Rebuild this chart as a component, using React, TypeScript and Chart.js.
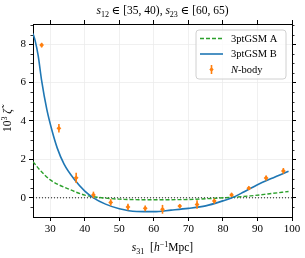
import React, { useEffect, useRef } from "react";
import { Chart, registerables } from "chart.js";

Chart.register(...registerables);

// ---- data ----
const xTicks = [30, 40, 50, 60, 70, 80, 90, 100];
const yTicks = [0, 2, 4, 6, 8];
const yMinorStep = 0.5;

const nbodyX = [27.5, 32.5, 37.5, 42.5, 47.5, 52.5, 57.5, 62.5, 67.5, 72.5, 77.5, 82.5, 87.5, 92.5, 97.5];
const nbodyY = [7.95, 3.62, 1.04, 0.15, -0.24, -0.48, -0.55, -0.6, -0.43, -0.35, -0.17, 0.15, 0.5, 1.03, 1.4];
const nbodyErr = [0.12, 0.22, 0.27, 0.17, 0.17, 0.17, 0.15, 0.23, 0.09, 0.22, 0.13, 0.11, 0.09, 0.13, 0.15];

const modelAX = [25, 27, 30, 35, 40, 44, 50, 60, 70, 78, 83, 88, 93, 99];
const modelAY = [1.88, 1.45, 0.93, 0.48, 0.14, 0.02, -0.07, -0.1, -0.09, -0.02, 0.03, 0.1, 0.2, 0.33];

const modelBX = [25, 25.6, 26.5, 27.5, 29, 30.5, 32, 34, 37, 40, 42.5, 46, 50, 55, 60, 65, 70, 75, 80, 82.6, 86, 90, 94, 99];
const modelBY = [8.55, 8.2, 7.4, 6.1, 4.6, 3.5, 2.6, 1.75, 0.95, 0.35, 0.0, -0.33, -0.57, -0.71, -0.72, -0.64, -0.55, -0.42, -0.16, 0.0, 0.3, 0.68, 1.0, 1.38];

const zeroLineX = [25, 100];
const zeroLineY = [0, 0];

const legendLabels = ["3ptGSM A", "3ptGSM B", "N-body"];

type Seg = { t: string; it?: boolean; sub?: boolean; sup?: boolean };
const titleSegs: Seg[] = [
  { t: "s", it: true }, { t: "12", sub: true }, { t: " ∈ [35, 40), " },
  { t: "s", it: true }, { t: "23", sub: true }, { t: " ∈ [60, 65)" },
];
const xLabelSegs: Seg[] = [
  { t: "s", it: true }, { t: "31", sub: true }, { t: "  [" }, { t: "h", it: true }, { t: "−1", sup: true }, { t: "Mpc]" },
];
const yLabelSegs: Seg[] = [
  { t: "10" }, { t: "3", sup: true }, { t: " " }, { t: "ζ̃", it: true },
];

const COLOR_A = "#2ca02c";
const COLOR_B = "#1f77b4";
const COLOR_N = "#ff7f0e";
const FONT = "'Liberation Serif', 'DejaVu Serif', serif";

function segFont(s: Seg, size: number) {
  const sz = s.sub || s.sup ? size * 0.7 : size;
  return `${s.it ? "italic " : ""}${sz}px ${FONT}`;
}

function drawRich(ctx: CanvasRenderingContext2D, segs: Seg[], cx: number, baseline: number, size: number) {
  ctx.save();
  ctx.textBaseline = "alphabetic";
  ctx.textAlign = "left";
  let total = 0;
  for (const s of segs) {
    ctx.font = segFont(s, size);
    total += ctx.measureText(s.t).width;
  }
  let x = cx - total / 2;
  for (const s of segs) {
    ctx.font = segFont(s, size);
    let dy = 0;
    if (s.sub) dy = size * 0.22;
    if (s.sup) dy = -size * 0.38;
    ctx.fillText(s.t, x, baseline + dy);
    x += ctx.measureText(s.t).width;
  }
  ctx.restore();
}

const pts = (xs: number[], ys: number[]) => xs.map((x, i) => ({ x, y: ys[i] }));

export default function App() {
  const ref = useRef<HTMLCanvasElement | null>(null);

  useEffect(() => {
    if (!ref.current) return;

    const errorBarPlugin = {
      id: "errorBars",
      beforeDatasetDraw(chart: any, args: any) {
        if (args.index !== 0) return;
        const ctx = chart.ctx;
        const xs = chart.scales.x;
        const ys = chart.scales.y;
        ctx.save();
        ctx.strokeStyle = COLOR_N;
        ctx.lineWidth = 1.6;
        nbodyX.forEach((xv, i) => {
          const px = xs.getPixelForValue(xv);
          ctx.beginPath();
          ctx.moveTo(px, ys.getPixelForValue(nbodyY[i] - nbodyErr[i]));
          ctx.lineTo(px, ys.getPixelForValue(nbodyY[i] + nbodyErr[i]));
          ctx.stroke();
        });
        ctx.restore();
      },
    };

    const decorPlugin = {
      id: "decor",
      afterDraw(chart: any) {
        const ctx = chart.ctx as CanvasRenderingContext2D;
        const ca = chart.chartArea;
        const ys = chart.scales.y;
        ctx.save();
        // minor ticks on left and right
        ctx.strokeStyle = "#000";
        ctx.lineWidth = 0.8;
        for (let v = ys.min; v <= ys.max + 1e-9; v += yMinorStep) {
          const r = Math.round(v / yMinorStep) * yMinorStep;
          if (yTicks.includes(r)) continue;
          const py = Math.round(ys.getPixelForValue(r)) + 0.5;
          if (py < ca.top || py > ca.bottom) continue;
          ctx.beginPath();
          ctx.moveTo(ca.left - 2.5, py);
          ctx.lineTo(ca.left, py);
          ctx.moveTo(ca.right, py);
          ctx.lineTo(ca.right + 2.5, py);
          ctx.stroke();
        }
        ctx.fillStyle = "#000";
        // title
        drawRich(ctx, titleSegs, (ca.left + ca.right) / 2, 14, 11.5);
        // x label
        drawRich(ctx, xLabelSegs, (ca.left + ca.right) / 2, 251, 11.5);
        // y label
        ctx.save();
        ctx.translate(11, (ca.top + ca.bottom) / 2);
        ctx.rotate(-Math.PI / 2);
        drawRich(ctx, yLabelSegs, 0, 0, 11.5);
        ctx.restore();

        // legend
        const lx = 196, ly = 30, lw = 90, lh = 49, rad = 3;
        ctx.beginPath();
        ctx.moveTo(lx + rad, ly);
        ctx.arcTo(lx + lw, ly, lx + lw, ly + lh, rad);
        ctx.arcTo(lx + lw, ly + lh, lx, ly + lh, rad);
        ctx.arcTo(lx, ly + lh, lx, ly, rad);
        ctx.arcTo(lx, ly, lx + lw, ly, rad);
        ctx.closePath();
        ctx.fillStyle = "rgba(255,255,255,0.8)";
        ctx.fill();
        ctx.strokeStyle = "#d0d0d0";
        ctx.lineWidth = 1;
        ctx.stroke();

        const rows = [38.5, 54, 69.5];
        // A
        ctx.strokeStyle = COLOR_A;
        ctx.lineWidth = 1.4;
        ctx.setLineDash([4, 2]);
        ctx.beginPath();
        ctx.moveTo(200, rows[0]);
        ctx.lineTo(223, rows[0]);
        ctx.stroke();
        ctx.setLineDash([]);
        // B
        ctx.strokeStyle = COLOR_B;
        ctx.lineWidth = 1.6;
        ctx.beginPath();
        ctx.moveTo(200, rows[1]);
        ctx.lineTo(223, rows[1]);
        ctx.stroke();
        // N
        ctx.strokeStyle = COLOR_N;
        ctx.lineWidth = 1.6;
        ctx.beginPath();
        ctx.moveTo(211.5, rows[2] - 4.5);
        ctx.lineTo(211.5, rows[2] + 4.5);
        ctx.stroke();
        ctx.fillStyle = COLOR_N;
        ctx.beginPath();
        ctx.moveTo(211.5, rows[2] - 2.2);
        ctx.lineTo(213.7, rows[2]);
        ctx.lineTo(211.5, rows[2] + 2.2);
        ctx.lineTo(209.3, rows[2]);
        ctx.closePath();
        ctx.fill();

        ctx.fillStyle = "#000";
        ctx.textBaseline = "middle";
        ctx.textAlign = "left";
        ctx.font = `10.5px ${FONT}`;
        ctx.fillText(legendLabels[0], 231, rows[0] + 0.5);
        ctx.fillText(legendLabels[1], 231, rows[1] + 0.5);
        ctx.font = `italic 10.5px ${FONT}`;
        const nPart = legendLabels[2].slice(0, 1);
        ctx.fillText(nPart, 231, rows[2] + 0.5);
        const w = ctx.measureText(nPart).width;
        ctx.font = `10.5px ${FONT}`;
        ctx.fillText(legendLabels[2].slice(1), 231 + w, rows[2] + 0.5);
        ctx.restore();
      },
    };

    const gridCommon = {
      color: "#ececec",
      lineWidth: 0.8,
      tickColor: "#000",
      tickLength: 4,
      tickWidth: 1,
    };
    const tickFont = { family: FONT, size: 11 };

    const chart = new Chart(ref.current, {
      type: "scatter",
      data: {
        datasets: [
          {
            label: legendLabels[2],
            data: pts(nbodyX, nbodyY),
            showLine: false,
            pointStyle: "rectRot",
            pointRadius: 2.4,
            backgroundColor: COLOR_N,
            borderColor: COLOR_N,
            borderWidth: 0,
            xAxisID: "x",
            yAxisID: "y",
          },
          {
            label: legendLabels[1],
            data: pts(modelBX, modelBY),
            showLine: true,
            pointRadius: 0,
            borderColor: COLOR_B,
            borderWidth: 1.6,
            cubicInterpolationMode: "monotone",
            xAxisID: "x",
            yAxisID: "y",
          },
          {
            label: legendLabels[0],
            data: pts(modelAX, modelAY),
            showLine: true,
            pointRadius: 0,
            borderColor: COLOR_A,
            borderWidth: 1.4,
            borderDash: [4, 2],
            cubicInterpolationMode: "monotone",
            xAxisID: "x",
            yAxisID: "y",
          },
          {
            label: "zero",
            data: pts(zeroLineX, zeroLineY),
            showLine: true,
            pointRadius: 0,
            borderColor: "#000",
            borderWidth: 0.9,
            borderDash: [1, 2],
            xAxisID: "x",
            yAxisID: "y",
          },
        ],
      },
      options: {
        animation: false,
        responsive: true,
        maintainAspectRatio: false,
        layout: { padding: 0 },
        plugins: {
          legend: { display: false },
          title: { display: false },
          tooltip: { enabled: false },
        },
        scales: {
          x: {
            type: "linear",
            position: "bottom",
            min: 25,
            max: 100,
            afterBuildTicks: (s: any) => { s.ticks = xTicks.map((v) => ({ value: v })); },
            afterFit: (s: any) => { s.height = 41; },
            ticks: { color: "#000", font: tickFont, padding: 2, maxRotation: 0 },
            grid: { ...gridCommon },
            border: { color: "#000", width: 1 },
          },
          x2: {
            type: "linear",
            position: "top",
            min: 25,
            max: 100,
            afterBuildTicks: (s: any) => { s.ticks = xTicks.map((v) => ({ value: v })); },
            afterFit: (s: any) => { s.height = 24; },
            ticks: { display: false },
            grid: { ...gridCommon, drawOnChartArea: false },
            border: { color: "#000", width: 1 },
          },
          y: {
            type: "linear",
            position: "left",
            min: -1,
            max: 9.05,
            afterBuildTicks: (s: any) => { s.ticks = yTicks.map((v) => ({ value: v })); },
            afterFit: (s: any) => { s.width = 33; },
            ticks: { color: "#000", font: tickFont, padding: 3 },
            grid: { ...gridCommon },
            border: { color: "#000", width: 1 },
          },
          y2: {
            type: "linear",
            position: "right",
            min: -1,
            max: 9.05,
            afterBuildTicks: (s: any) => { s.ticks = yTicks.map((v) => ({ value: v })); },
            afterFit: (s: any) => { s.width = 13; },
            ticks: { display: false },
            grid: { ...gridCommon, drawOnChartArea: false },
            border: { color: "#000", width: 1 },
          },
        },
      } as any,
      plugins: [errorBarPlugin, decorPlugin],
    });

    return () => chart.destroy();
  }, []);

  return (
    <div style={{ position: "absolute", left: 0, top: 0, width: 305, height: 258, background: "#fff" }}>
      <canvas ref={ref} />
    </div>
  );
}
